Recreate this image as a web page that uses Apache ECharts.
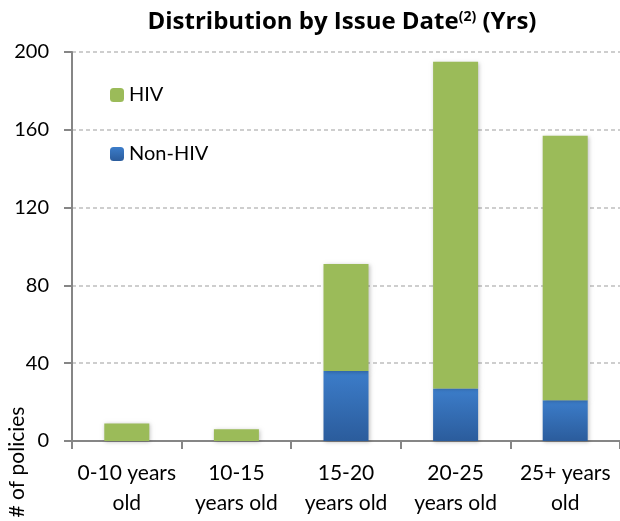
<!DOCTYPE html>
<html>
<head>
<meta charset="utf-8">
<script src="https://cdn.jsdelivr.net/npm/echarts@6/dist/echarts.min.js"></script>
<style>html,body{margin:0;padding:0;background:#fff}#c{width:620px;height:521px}</style>
</head>
<body>
<div id="c"></div>
<script>
const categories = ['0-10 years\nold', '10-15\nyears old', '15-20\nyears old', '20-25\nyears old', '25+ years\nold'];
const nonHiv = [0, 0, 36, 27, 21];
const hiv = [9, 6, 55, 168, 136];
const yTicks = [0, 40, 80, 120, 160, 200];

const FONT = 'Lato';
const TFONT = 'Open Sans';
const chart = echarts.init(document.getElementById('c'));
chart.setOption({
  animation: false,
  backgroundColor: '#fff',
  textStyle: { fontFamily: FONT },
  title: {
    text: '{a|Distribution by Issue Date}{s|(2)}{a| (Yrs)}',
    left: 337, top: 5, textAlign: 'center',
    textStyle: {
      rich: {
        a: { fontFamily: TFONT, fontWeight: 'bold', fontSize: 24, color: '#000' },
        s: { fontFamily: TFONT, fontWeight: 'bold', fontSize: 14, color: '#000', verticalAlign: 'top', padding: [0, 0, 9, 0] }
      }
    }
  },
  legend: [
    { data: ['HIV'], left: 105, top: 80, itemWidth: 14, itemHeight: 14, itemGap: 6,
      textStyle: { fontFamily: FONT, fontSize: 20, color: '#000' }, selectedMode: false },
    { data: ['Non-HIV'], left: 105, top: 139, itemWidth: 14, itemHeight: 14, itemGap: 6,
      textStyle: { fontFamily: FONT, fontSize: 20, color: '#000' }, selectedMode: false }
  ],
  grid: { left: 72, top: 52, width: 550, height: 389, containLabel: false },
  graphic: [{
    type: 'text', x: 17, y: 462, rotation: Math.PI / 2,
    style: { text: '# of policies', font: '21px ' + FONT, fill: '#000', align: 'center', verticalAlign: 'middle' }
  }],
  xAxis: {
    type: 'category', data: categories,
    axisLine: { lineStyle: { color: '#868686', width: 2 } },
    axisTick: { show: true, length: 8, lineStyle: { color: '#868686', width: 2 } },
    axisLabel: { color: '#000', fontSize: 21, fontFamily: FONT, lineHeight: 30, margin: 17, interval: 0 }
  },
  yAxis: {
    type: 'value', min: 0, max: 200, interval: 40,
    axisLine: { show: true, lineStyle: { color: '#868686', width: 2 } },
    axisTick: { show: true, length: 8, lineStyle: { color: '#868686', width: 2 } },
    axisLabel: { color: '#000', fontSize: 20, fontFamily: FONT, margin: 23,
      formatter: v => yTicks.includes(v) ? String(v) : '' },
    splitLine: { lineStyle: { color: '#BFBFBF', type: [4, 3], width: 1.5 } }
  },
  series: [
    { name: 'Non-HIV', type: 'bar', stack: 'a', data: nonHiv, barWidth: 45,
      itemStyle: {
        color: new echarts.graphic.LinearGradient(0, 0, 0, 1, [
          { offset: 0, color: '#3C7DCA' }, { offset: 1, color: '#2B5C9C' }]),
        shadowBlur: 4, shadowColor: 'rgba(0,0,0,0.25)', shadowOffsetX: 1, shadowOffsetY: 1
      } },
    { name: 'HIV', type: 'bar', stack: 'a', data: hiv, barWidth: 45,
      itemStyle: { color: '#9BBB59', shadowBlur: 4, shadowColor: 'rgba(0,0,0,0.25)', shadowOffsetX: 1, shadowOffsetY: 1 } }
  ]
});
</script>
</body>
</html>
